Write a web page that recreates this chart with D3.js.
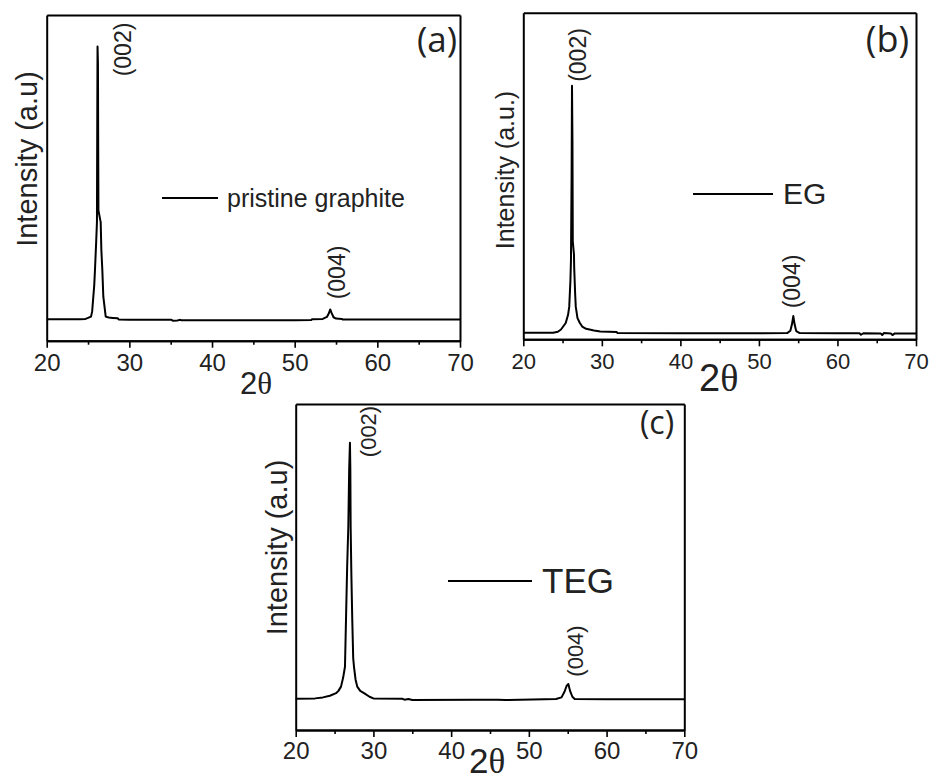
<!DOCTYPE html>
<html>
<head>
<meta charset="utf-8">
<script src="https://cdn.jsdelivr.net/npm/d3@7/dist/d3.min.js"></script>
<style>
  html, body { margin: 0; padding: 0; background: #fff; }
  svg { display: block; }
</style>
</head>
<body>
<svg id="chart" width="933" height="782"></svg>
<script>
// ---------------- DATA ----------------
// x-axis (2θ, degrees) and tick labels
const xDomain = [20, 70];
const xMajorTicks = [20, 30, 40, 50, 60, 70];
const xMinorTicks = [25, 35, 45, 55, 65];
const yDomain = [0, 100]; // arbitrary intensity units

// (a) pristine graphite : [2θ, intensity]
const twoThetaA = [20, 22, 24.0, 24.7, 25.0, 25.36, 25.5, 25.64, 25.75, 25.84, 25.98, 26.08, 26.12, 26.15, 26.2, 26.23, 26.26, 26.48, 26.53, 26.61, 26.73, 26.85, 27.14, 27.5, 28.0, 28.6, 28.7, 30, 35.1, 35.3, 35.8, 36.1, 36.3, 40, 45, 50, 52.0, 52.1, 53.4, 53.9, 54.15, 54.3, 54.45, 54.7, 55.0, 55.7, 55.8, 60, 70];
const intensityA = [6.6, 6.6, 6.6, 6.7, 7.0, 7.4, 9.0, 13.5, 17, 21.7, 30, 36.5, 70, 90.3, 85, 60, 40, 37, 36.5, 28, 21.7, 13.5, 7.4, 7.1, 7.0, 6.9, 6.5, 6.45, 6.4, 6.1, 6.2, 6.4, 6.3, 6.3, 6.3, 6.3, 6.35, 6.6, 6.7, 7.3, 8.5, 9.6, 8.6, 7.2, 6.8, 6.7, 6.5, 6.5, 6.5];

// (b) EG
const twoThetaB = [20, 23.8, 24.4, 24.8, 25.4, 25.7, 25.85, 26.0, 26.07, 26.15, 26.2, 26.26, 26.3, 26.45, 26.48, 26.6, 26.68, 26.9, 27.2, 27.5, 28.0, 29.0, 29.8, 31.9, 32.0, 40, 50, 53.6, 54.0, 54.2, 54.38, 54.55, 54.75, 55.2, 60, 62.8, 63.0, 63.3, 65.5, 65.7, 65.9, 66.8, 67.0, 67.3, 70];
const intensityB = [2.0, 2.0, 2.3, 3.0, 5.0, 7.5, 10, 18, 24.3, 50, 77.6, 60, 30, 26, 22, 14, 10, 6.5, 5.0, 3.9, 3.2, 2.7, 2.4, 2.2, 1.9, 1.85, 1.85, 1.9, 2.6, 4.5, 7.1, 4.5, 2.5, 1.9, 1.85, 1.85, 1.4, 1.85, 1.8, 1.3, 1.9, 1.8, 1.3, 1.8, 1.8];

// (c) TEG
const twoThetaC = [20, 22.5, 23.5, 24.4, 25.19, 25.5, 25.83, 26.1, 26.34, 26.47, 26.62, 26.77, 26.88, 26.98, 27.03, 27.07, 27.16, 27.28, 27.4, 27.5, 27.7, 27.92, 28.3, 28.79, 29.5, 30.0, 33.7, 34.0, 34.5, 35.0, 43.0, 46.0, 47.0, 52.0, 53.5, 54.2, 54.6, 54.85, 55.08, 55.3, 55.6, 55.9, 60, 70];
const intensityC = [9.6, 9.7, 10.0, 10.5, 11.3, 12.0, 13.3, 16.0, 19.4, 33.7, 50, 62.4, 80, 88.1, 80, 62.4, 48, 33.7, 22, 19.4, 15.5, 13.3, 12.0, 11.3, 10.2, 9.7, 9.6, 9.3, 9.5, 9.2, 9.3, 9.3, 9.2, 9.4, 9.5, 10.0, 11.8, 13.5, 14.1, 12.0, 10.2, 9.5, 9.4, 9.4];

const panelLabels = ["(a)", "(b)", "(c)"];
const seriesNames = ["pristine graphite", "EG", "TEG"];
const yTitles = ["Intensity (a.u)", "Intensity (a.u.)", "Intensity (a.u)"];
const peakNames = ["(002)", "(004)"];

// ---------------- LAYOUT ----------------
const layout = [
  { frame: {l: 46.7, r: 460, t: 15, b: 340.7}, tickFont: 24, tickPad: 6,
    ytitle: {x: 27, y: 159, size: 29},
    xtitle: {x: 240, y: 394, size: 31},
    tag: {x: 437, y: 52, size: 35},
    legLine: {x1: 162, x2: 218, y: 198}, legText: {x: 227, y: 207, size: 25},
    peaks: [{x: 123, y: 49.5}, {x: 337, y: 272.5}], peakSize: 23 },
  { frame: {l: 523.3, r: 916, t: 12.7, b: 339.3}, tickFont: 22, tickPad: 7,
    ytitle: {x: 505, y: 170, size: 25},
    xtitle: {x: 699, y: 391, size: 38},
    tag: {x: 887.5, y: 52, size: 36},
    legLine: {x1: 693, x2: 773, y: 194}, legText: {x: 783, y: 204, size: 30},
    peaks: [{x: 578.3, y: 55}, {x: 791.7, y: 281.5}], peakSize: 23 },
  { frame: {l: 295.7, r: 684.3, t: 404, b: 730}, tickFont: 24, tickPad: 5,
    ytitle: {x: 277, y: 547.5, size: 29},
    xtitle: {x: 469, y: 773, size: 35},
    tag: {x: 657, y: 434, size: 32},
    legLine: {x1: 448, x2: 532, y: 581}, legText: {x: 542, y: 593, size: 35},
    peaks: [{x: 368, y: 431.5}, {x: 575, y: 651}], peakSize: 22 }
];

const series = [
  d3.zip(twoThetaA, intensityA),
  d3.zip(twoThetaB, intensityB),
  d3.zip(twoThetaC, intensityC)
];

const svg = d3.select("#chart");
const sans = "'Liberation Sans', Arial, sans-serif";

series.forEach((data, i) => {
  const L = layout[i];
  const f = L.frame;
  const x = d3.scaleLinear().domain(xDomain).range([f.l, f.r]);
  const y = d3.scaleLinear().domain(yDomain).range([f.b, f.t]);
  const g = svg.append("g");

  // data line
  g.append("path")
    .datum(data)
    .attr("fill", "none")
    .attr("stroke", "#000")
    .attr("stroke-width", 2)
    .attr("stroke-linejoin", "round")
    .attr("d", d3.line().x(d => x(d[0])).y(d => y(d[1])));

  // axes
  const bottomMajor = g.append("g").attr("transform", `translate(0,${f.b})`)
    .call(d3.axisBottom(x).tickValues(xMajorTicks).tickSizeInner(7).tickSizeOuter(0)
      .tickPadding(L.tickPad).tickFormat(d3.format("d")));
  const bottomMinor = g.append("g").attr("transform", `translate(0,${f.b})`)
    .call(d3.axisBottom(x).tickValues(xMinorTicks).tickSizeInner(4).tickSizeOuter(0).tickFormat(""));
  const left = g.append("g").attr("transform", `translate(${f.l},0)`)
    .call(d3.axisLeft(y).tickValues([]).tickSizeOuter(0));
  const right = g.append("g").attr("transform", `translate(${f.r},0)`)
    .call(d3.axisRight(y).tickValues([]).tickSizeOuter(0));
  const top = g.append("g").attr("transform", `translate(0,${f.t})`)
    .call(d3.axisTop(x).tickValues([]).tickSizeOuter(0));

  [bottomMajor, bottomMinor, left, right, top].forEach(a => {
    a.selectAll(".domain").attr("stroke", "#000").attr("stroke-width", 2);
    a.selectAll(".tick line").attr("stroke", "#000").attr("stroke-width", 1.6);
  });
  bottomMajor.selectAll(".tick text")
    .attr("font-family", sans).attr("font-size", L.tickFont).attr("fill", "#222");

  // y title
  g.append("text")
    .attr("transform", `translate(${L.ytitle.x},${L.ytitle.y}) rotate(-90)`)
    .attr("text-anchor", "middle").attr("dominant-baseline", "central")
    .attr("font-family", sans).attr("font-size", L.ytitle.size).attr("fill", "#222")
    .text(yTitles[i]);

  // x title 2θ
  const xt = g.append("text")
    .attr("x", L.xtitle.x).attr("y", L.xtitle.y)
    .attr("font-size", L.xtitle.size).attr("fill", "#222");
  xt.append("tspan").attr("font-family", sans).text("2");
  xt.append("tspan").attr("font-family", "'Liberation Serif', 'Times New Roman', serif").text("θ");

  // panel tag
  g.append("text")
    .attr("x", L.tag.x).attr("y", L.tag.y).attr("text-anchor", "middle")
    .attr("font-family", "'Open Sans', sans-serif").attr("font-size", L.tag.size).attr("fill", "#222")
    .text(panelLabels[i]);

  // legend
  g.append("line")
    .attr("x1", L.legLine.x1).attr("x2", L.legLine.x2)
    .attr("y1", L.legLine.y).attr("y2", L.legLine.y)
    .attr("stroke", "#000").attr("stroke-width", 2);
  g.append("text")
    .attr("x", L.legText.x).attr("y", L.legText.y)
    .attr("font-family", sans).attr("font-size", L.legText.size).attr("fill", "#222")
    .text(seriesNames[i]);

  // peak labels
  L.peaks.forEach((p, k) => {
    g.append("text")
      .attr("transform", `translate(${p.x},${p.y}) rotate(-90)`)
      .attr("text-anchor", "middle").attr("dominant-baseline", "central")
      .attr("font-family", sans).attr("font-size", L.peakSize).attr("fill", "#222")
      .text(peakNames[k]);
  });
});
</script>
</body>
</html>
